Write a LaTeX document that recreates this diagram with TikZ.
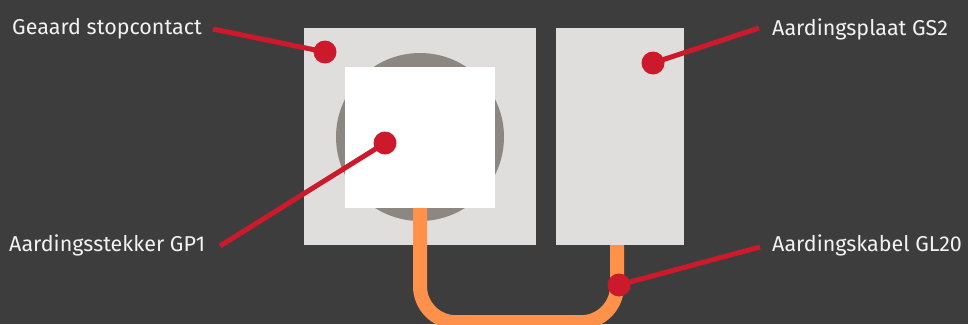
\documentclass[tikz,border=0pt]{standalone}
\usepackage{fontspec}
\setmainfont{Fira Sans}
\usepackage{tikz}
\usetikzlibrary{positioning, calc}

\definecolor{bgdark}{HTML}{3D3D3D}
\definecolor{panelgrey}{HTML}{DFDEDC}
\definecolor{ringgrey}{HTML}{8D8781}
\definecolor{cableorange}{HTML}{FF914A}
\definecolor{calloutred}{HTML}{CC1A2C}

\begin{document}
\begin{tikzpicture}[
    x=1pt, y=-1pt,
    panel/.style={rectangle, fill=panelgrey, inner sep=0pt},
    calltext/.style={inner sep=0pt, text=white!95!black, font=\fontsize{21.5}{24}\selectfont},
    reddot/.style={circle, fill=calloutred, minimum size=23pt, inner sep=0pt},
    lead/.style={draw=calloutred, line width=5pt},
    cable/.style={draw=cableorange, line width=14pt, rounded corners=36pt}
]
    % Background
    \fill [bgdark] (0,0) rectangle (968,324);
    \useasboundingbox (0,0) rectangle (968,324);

    % Nodes
    \node (socket) [panel, minimum width=232pt, minimum height=217pt] at (420,136.5) {};
    \node (ring) [circle, fill=ringgrey, minimum size=168pt, inner sep=0pt] at (420,137) {};
    \node (plug) [fill=white, minimum width=150pt, minimum height=141pt, inner sep=0pt] at (420,137.5) {};
    \node (plaat) [panel, minimum width=128pt, minimum height=217pt] at (620,136.5) {};

    % Cable
    \draw [cable] (plug.south) -- ++(0,114) -| ([xshift=-3pt]plaat.south);

    % Labels
    \node (tstop) [calltext, anchor=base west] at (12,34) {Geaard stopcontact};
    \node (tplug) [calltext, anchor=base west] at (9,251) {Aardingsstekker GP1};
    \node (tplaat) [calltext, anchor=base west] at (772,35) {Aardingsplaat GS2};
    \node (tkabel) [calltext, anchor=base west] at (772,251) {Aardingskabel GL20};

    % Dots
    \node (dstop) [reddot] at (325,52) {};
    \node (dplug) [reddot] at (385,143) {};
    \node (dplaat) [reddot] at (653,63) {};
    \node (dkabel) [reddot] at (619,285) {};

    % Lead ends
    \coordinate (estop) at (213,29);
    \coordinate (eplug) at (220,246);
    \coordinate (eplaat) at (759,28);
    \coordinate (ekabel) at (760,247);

    % Leads
    \draw [lead] (estop) -- (dstop.center);
    \draw [lead] (eplug) -- (dplug.center);
    \draw [lead] (eplaat) -- (dplaat.center);
    \draw [lead] (ekabel) -- (dkabel.center);

\end{tikzpicture}
\end{document}
